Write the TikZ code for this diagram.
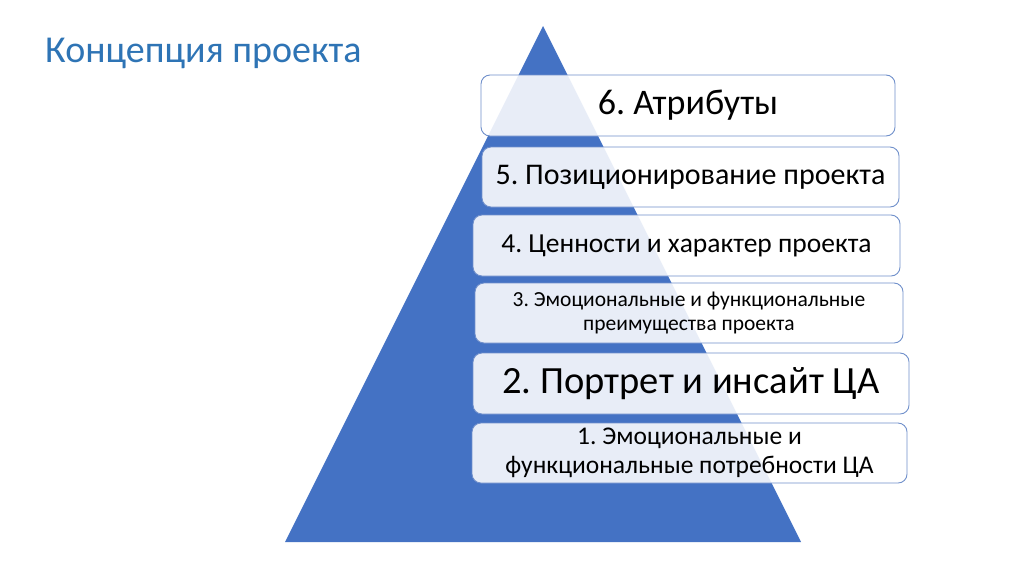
\documentclass[tikz,border=0pt]{standalone}
\usepackage{fontspec}
\setmainfont{Carlito}
\frenchspacing
\definecolor{triblue}{HTML}{4472C4}
\definecolor{titleblue}{HTML}{2E74B5}
\definecolor{boxline}{HTML}{6F8FCB}
\begin{document}
\begin{tikzpicture}[x=1pt,y=-1pt,
  layer/.style={draw=boxline,line width=0.9pt,fill=white,fill opacity=0.88,text opacity=1,
    rounded corners=9pt,align=center,inner sep=0pt,text=black}]
\useasboundingbox (0,0) rectangle (1024,574);
\fill[white] (0,0) rectangle (1024,574);
\node[anchor=base west,text=titleblue,font=\fontsize{38}{44}\selectfont,inner sep=0pt] (title) at (45,62) {Концепция проекта};
\coordinate (apex) at (543,26);
\coordinate (bl) at (285,542);
\coordinate (br) at (801,542);
\fill[triblue] (apex) -- (br) -- (bl) -- cycle;
\node[layer,minimum width=414pt,minimum height=61pt,font=\fontsize{36}{40}\selectfont] (l6) at (688,105.5) {6. Атрибуты};
\node[layer,minimum width=417pt,minimum height=60pt,font=\fontsize{30}{34}\selectfont] (l5) at (690.5,177) {5. Позиционирование проекта};
\node[layer,minimum width=427pt,minimum height=61pt,font=\fontsize{27.5}{32}\selectfont] (l4) at (686.5,245.5) {4. Ценности и характер проекта};
\node[layer,minimum width=428pt,minimum height=60pt,font=\fontsize{21.5}{24.5}\selectfont] (l3) at (689,313) {3. Эмоциональные и функциональные\\преимущества проекта};
\node[layer,minimum width=436pt,minimum height=61pt,font=\fontsize{38.5}{44}\selectfont] (l2) at (691,383.5) {2. Портрет и инсайт ЦА};
\node[layer,minimum width=435pt,minimum height=60pt,font=\fontsize{25.5}{28.5}\selectfont] (l1) at (689.5,453) {1. Эмоциональные и\\функциональные потребности ЦА};
\end{tikzpicture}
\end{document}
